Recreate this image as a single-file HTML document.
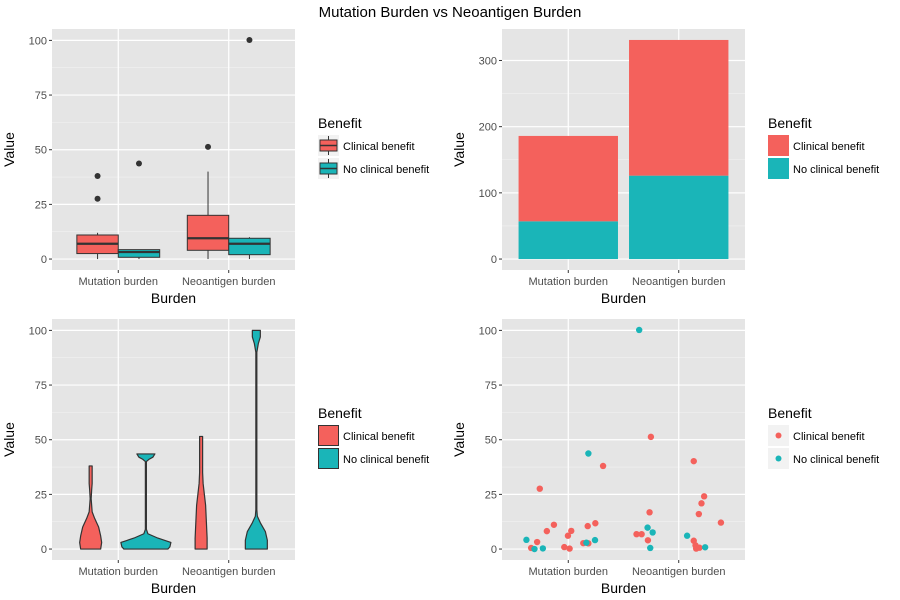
<!DOCTYPE html>
<html><head><meta charset="utf-8"><style>
body{margin:0;background:#fff;}
svg{display:block;font-family:"Liberation Sans",Arial,sans-serif;}
</style></head><body>
<svg id="c" width="900" height="600" viewBox="0 0 900 600">
<text x="450" y="17" text-anchor="middle" font-size="15" fill="#000">Mutation Burden vs Neoantigen Burden</text>
</svg>
<script>
const categories = ["Mutation burden","Neoantigen burden"];
const groups = ["Clinical benefit","No clinical benefit"];
const colors = ["#F4615C","#1AB5B8"];
// box stats: [lowWhisker, q1, median, q3, highWhisker]
const boxClinical = [[0,2.5,7,11,12],[0,4,9.5,20,40]];
const boxNoClinical = [[0,0.8,3.2,4.3,4.3],[0,2,7,9.5,10]];
const outliersClinical = [[27.6,38],[51.3]];
const outliersNoClinical = [[43.7],[100.2]];
// stacked bar totals
const barClinical = [129,205];
const barNoClinical = [57,126];
// violin density profiles: [value, relative width]
const violinMutClinical = [[0,10],[3,11],[6,10],[10,8],[14,4],[17,1.5],[20,1],[23,0.5],[27,1],[30,1.5],[35,1.5],[38,1.5]];
const violinMutNoClinical = [[0,22],[1,24],[3,25],[5,12],[7,2],[9,0.5],[40,0.5],[41,3],[42,7],[43.5,9]];
const violinNeoClinical = [[0,6],[5,6],[10,5.5],[20,4.5],[30,2],[35,1.5],[45,1.5],[51.5,1.5]];
const violinNeoNoClinical = [[0,11],[4,11],[8,9],[12,4],[15,1],[18,0.5],[90,0.5],[94,2],[97,4],[100,4]];
// jittered points: x position (category index 1..2 + jitter), value
const ptsClinX = [0.664,0.718,0.742,0.806,0.870,0.964,0.997,1.012,1.027,1.136,1.176,1.182,1.245,1.315,1.618,1.664,1.748,1.736,1.721,2.136,2.136,2.230,2.206,2.182,2.152,2.158,2.188,2.382];
const ptsClinY = [0.5,3.2,27.6,8.2,11.1,0.9,6.1,0.2,8.3,2.7,10.5,2.6,11.8,38.0,6.8,6.8,51.3,16.8,4.0,40.2,3.8,24.1,20.9,16.0,1.7,0.2,0.6,12.1];
const ptsNoX = [0.621,0.694,0.770,1.182,1.164,1.242,1.642,1.718,1.764,1.742,2.076,2.239];
const ptsNoY = [4.2,0,0.3,43.7,2.9,4.1,100.2,9.8,7.6,0.5,6.1,0.8];
const ticks100 = [0,25,50,75,100];
const ticks300 = [0,100,200,300];

const NS="http://www.w3.org/2000/svg";
const svg=document.getElementById('c');
function el(tag,attrs,parent,txt){const e=document.createElementNS(NS,tag);for(const k in attrs)e.setAttribute(k,attrs[k]);if(txt!==undefined)e.textContent=txt;(parent||svg).appendChild(e);return e;}

function panel(px,py,name,ticks,ymin,ymax){
  const W=243,H=241;
  const g=el('g',{});
  
  
  const bg=el('rect',{x:px,y:py,width:W,height:H,fill:'#E5E5E5'},g);
  
  
  const ex=(ymax-ymin)*0.05;
  const lo=ymin-ex, hi=ymax+ex;
  const sy=v=>py+H-(v-lo)/(hi-lo)*H;
  const sx=c=>px+(c-0.4)/2.2*W;
  const step=ticks[1]-ticks[0];
  for(let i=0;i<ticks.length-1;i++){const m=ticks[i]+step/2;el('line',{x1:px,x2:px+W,y1:sy(m),y2:sy(m),stroke:'#F2F2F2','stroke-width':0.6},g);}
  ticks.forEach(t=>{
    el('line',{x1:px,x2:px+W,y1:sy(t),y2:sy(t),stroke:'#fff','stroke-width':1.2},g);
    el('line',{x1:px-3,x2:px,y1:sy(t),y2:sy(t),stroke:'#333','stroke-width':1},g);
    const tl=el('text',{x:px-5,y:sy(t)+4,'text-anchor':'end','font-size':11,fill:'#4D4D4D'},g,t);
    
    
  });
  categories.forEach((c,i)=>{
    const x=sx(i+1);
    el('line',{x1:x,x2:x,y1:py,y2:py+H,stroke:'#fff','stroke-width':1.2},g);
    el('line',{x1:x,x2:x,y1:py+H,y2:py+H+3,stroke:'#333','stroke-width':1},g);
    const tl=el('text',{x:x,y:py+H+15,'text-anchor':'middle','font-size':11,fill:'#4D4D4D'},g,c);
    
    
  });
  const xt=el('text',{x:px+W/2,y:py+H+33,'text-anchor':'middle','font-size':14,fill:'#000'},g,'Burden');
  
  
  const yx=px-38, yy=py+H/2;
  const yt=el('text',{x:yx,y:yy,'text-anchor':'middle','font-size':14,fill:'#000',transform:`rotate(-90 ${yx} ${yy})`},g,'Value');
  
  
  return {g,sx,sy};
}

function legend(x,y,type){
  const g=el('g',{});
  
  
  el('text',{x:x,y:y,'font-size':14,fill:'#000'},g,'Benefit');
  groups.forEach((gr,i)=>{
    const ky=y+7+i*23;
    const k=el('g',{},g);
    
    
    el('rect',{x:x,y:ky,width:21,height:21,fill:'#F2F2F2'},k);
    if(type==='box'){
      el('line',{x1:x+10.5,x2:x+10.5,y1:ky+1,y2:ky+20,stroke:'#333'},k);
      el('rect',{x:x+2,y:ky+5,width:17,height:11,fill:colors[i],stroke:'#333','stroke-width':1},k);
      el('line',{x1:x+2,x2:x+19,y1:ky+10.5,y2:ky+10.5,stroke:'#333','stroke-width':1.5},k);
    }else if(type==='fill'){
      el('rect',{x:x,y:ky,width:21,height:21,fill:colors[i]},k);
    }else if(type==='violin'){
      el('rect',{x:x+0.5,y:ky+0.5,width:20,height:20,fill:colors[i],stroke:'#333'},k);
    }else{
      el('circle',{cx:x+10.5,cy:ky+10.5,r:3,fill:colors[i]},k);
    }
    el('text',{x:x+25,y:ky+15,'font-size':11,fill:'#000'},k,gr);
  });
}

// Panel 1: boxplot
(function(){
  const p=panel(52,29,'boxplot-panel',ticks100,0,100.2);
  const bw=0.375;
  [boxClinical,boxNoClinical].forEach((bs,gi)=>{
    const outs=gi===0?outliersClinical:outliersNoClinical;
    bs.forEach((s,ci)=>{
      const c=ci+1+(gi===0?-bw/2:bw/2);
      const x0=p.sx(c-bw/2), x1=p.sx(c+bw/2), xm=p.sx(c);
      const b=el('g',{},p.g);
      
      
      el('line',{x1:xm,x2:xm,y1:p.sy(s[0]),y2:p.sy(s[4]),stroke:'#333','stroke-width':1},b);
      el('rect',{x:x0,y:p.sy(s[3]),width:x1-x0,height:p.sy(s[1])-p.sy(s[3]),fill:colors[gi],stroke:'#333','stroke-width':1},b);
      el('line',{x1:x0,x2:x1,y1:p.sy(s[2]),y2:p.sy(s[2]),stroke:'#333','stroke-width':2.2},b);
      outs[ci].forEach(o=>{
        const d=el('circle',{cx:xm,cy:p.sy(o),r:3,fill:'#333'},b);
        
        
      });
    });
  });
  legend(318,128,'box');
})();

// Panel 2: stacked bars
(function(){
  const p=panel(502,29,'stacked-bar-panel',ticks300,0,331);
  categories.forEach((c,i)=>{
    const x0=p.sx(i+1-0.45), x1=p.sx(i+1+0.45);
    const tot=barClinical[i]+barNoClinical[i];
    const r1=el('rect',{x:x0,y:p.sy(barNoClinical[i]),width:x1-x0,height:p.sy(0)-p.sy(barNoClinical[i]),fill:colors[1]},p.g);
    
    
    const r2=el('rect',{x:x0,y:p.sy(tot),width:x1-x0,height:p.sy(barNoClinical[i])-p.sy(tot),fill:colors[0]},p.g);
    
    
  });
  legend(768,128,'fill');
})();

// Panel 3: violins
(function(){
  const p=panel(52,319,'violin-panel',ticks100,0,100.2);
  const vs=[[violinMutClinical,0,0],[violinMutNoClinical,0,1],[violinNeoClinical,1,0],[violinNeoNoClinical,1,1]];
  let maxw=0; vs.forEach(v=>v[0].forEach(d=>{if(d[1]>maxw)maxw=d[1];}));
  vs.forEach(([prof,ci,gi])=>{
    const cx=p.sx(ci+1+(gi===0?-0.25:0.25));
    const sc=25/maxw;
    let pts=prof.map(d=>[cx+d[1]*sc,p.sy(d[0])]);
    let left=prof.slice().reverse().map(d=>[cx-d[1]*sc,p.sy(d[0])]);
    const all=pts.concat(left).map(q=>q.join(',')).join(' ');
    const v=el('polygon',{points:all,fill:colors[gi],stroke:'#333','stroke-width':1.2,'stroke-linejoin':'round'},p.g);
    
    
  });
  legend(318,418,'violin');
})();

// Panel 4: jitter
(function(){
  const p=panel(502,319,'jitter-panel',ticks100,0,100.2);
  [[ptsClinX,ptsClinY,0],[ptsNoX,ptsNoY,1]].forEach(([xs,ys,gi])=>{
    xs.forEach((x,i)=>{
      const c=el('circle',{cx:p.sx(x),cy:p.sy(ys[i]),r:3.2,fill:colors[gi]},p.g);
      
      
    });
  });
  legend(768,418,'point');
})();
</script>
</body></html>
